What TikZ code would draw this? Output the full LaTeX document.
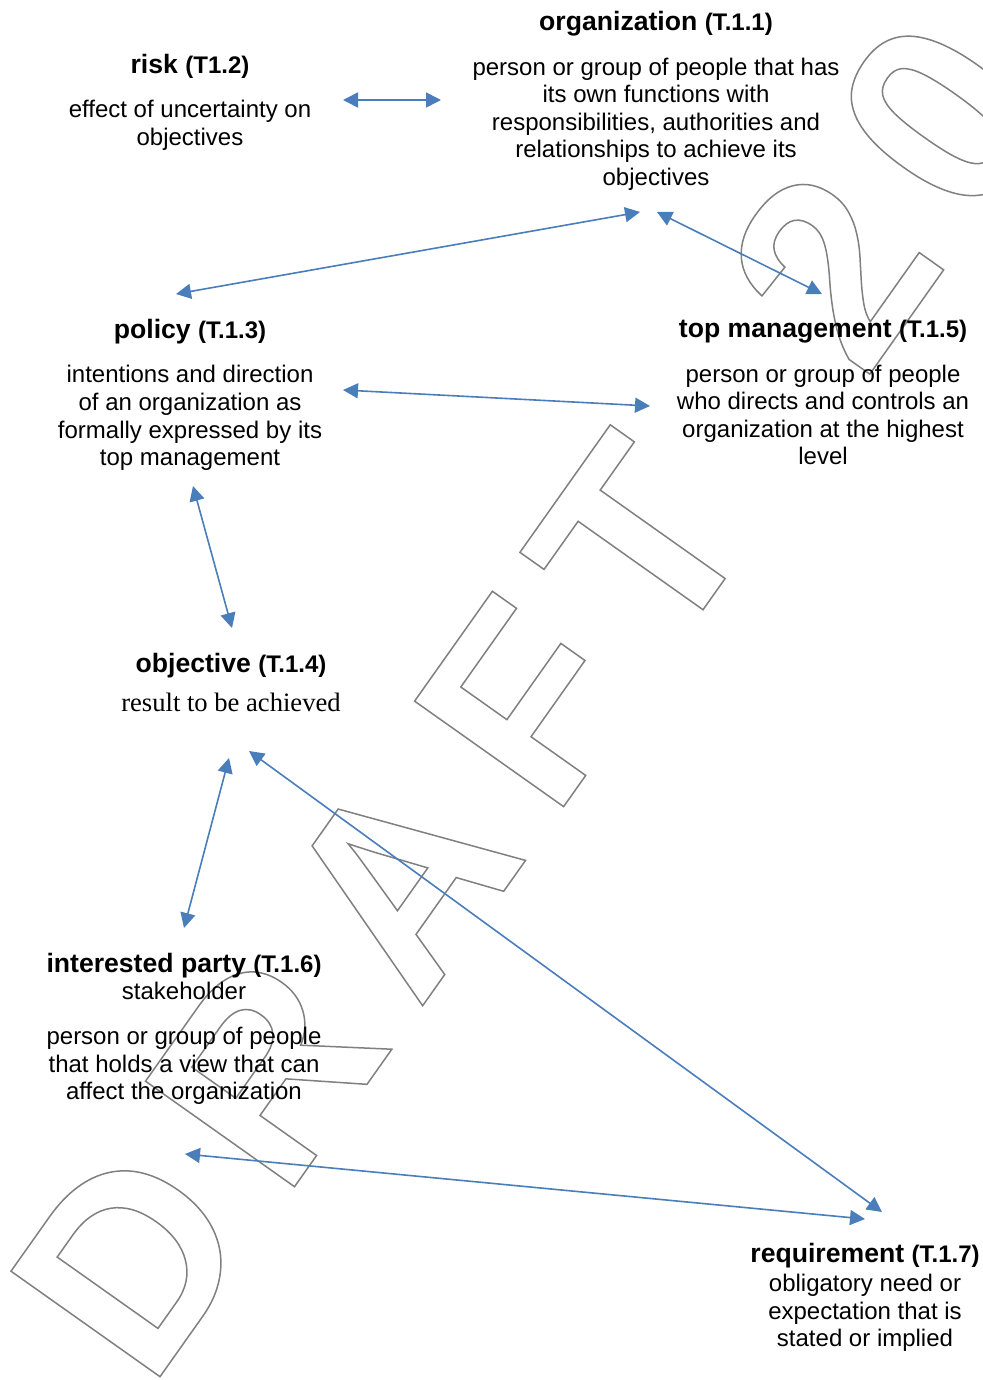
\documentclass[tikz,border=0pt]{standalone}
\usepackage{fontspec}
\setmainfont{Liberation Sans}
\newfontfamily\timesfont{Liberation Serif}
\usetikzlibrary{arrows.meta}
\definecolor{linkblue}{RGB}{74,126,187}
\definecolor{markgray}{RGB}{128,128,128}
\newcommand{\termno}[1]{{\fontsize{12}{14}\selectfont #1}}
\newcommand{\outlined}[1]{\special{pdf:literal direct 1 Tr 0.75 w}#1\special{pdf:literal direct 0 Tr}}
\tikzset{
  term/.style={font=\fontsize{13.3}{16}\selectfont\bfseries, inner sep=0pt},
  defn/.style={font=\fontsize{12}{13.8}\selectfont, align=center, inner sep=0pt},
  link/.style={linkblue, line width=0.8pt, {Triangle[length=7.5pt,width=7.5pt]}-{Triangle[length=7.5pt,width=7.5pt]}},
  letter/.style={markgray, font=\fontsize{132.7}{140}\selectfont\bfseries, inner sep=0pt, anchor=base west, rotate=54.7}
}
\begin{document}
\begin{tikzpicture}[x=0.5pt, y=-0.5pt]
\useasboundingbox (0,0) rectangle (983,1380);
\begin{scope}
\clip (0,0) rectangle (983,1380);
\begin{scope}[shift={(149.5,1391.5)}, rotate=54.7]
\foreach \ch/\s [count=\i] in {D/0, R/232.8, A/465.7, F/698.5, T/895.6, 2/1237, 0/1424}
  \node[letter] (mark\i) at (\s,0) {\outlined{\ch}};
\end{scope}
\end{scope}
\node[term] (risk) at (190,66.5) {risk \termno{(T1.2)}};
\node[defn] (riskdef) at (190,125) {effect of uncertainty on\\objectives};
\node[term] (org) at (656,24) {organization \termno{(T.1.1)}};
\node[defn] (orgdef) at (656,124) {person or group of people that has\\its own functions with\\responsibilities, authorities and\\relationships to achieve its\\objectives};
\node[term] (policy) at (190,332) {policy \termno{(T.1.3)}};
\node[defn] (policydef) at (190,418) {intentions and direction\\of an organization as\\formally expressed by its\\top management};
\node[term] (top) at (823,332) {top management \termno{(T.1.5)}};
\node[defn] (topdef) at (823,415) {person or group of people\\who directs and controls an\\organization at the highest\\level};
\node[term] (objective) at (231,666) {objective \termno{(T.1.4)}};
\node[defn, font=\timesfont\fontsize{13.3}{15}\selectfont] (objdef) at (231,702) {result to be achieved};
\node[term] (party) at (184,966) {interested party \termno{(T.1.6)}};
\node[defn] (partyalt) at (184,991) {stakeholder};
\node[defn] (partydef) at (184,1066) {person or group of people\\that holds a view that can\\affect the organization};
\node[term] (req) at (865,1256) {requirement \termno{(T.1.7)}};
\node[defn] (reqdef) at (865,1313) {obligatory need or\\expectation that is\\stated or implied};
\coordinate (risk-e) at (343,100);
\coordinate (org-w) at (441,100);
\coordinate (org-sw) at (640,212);
\coordinate (org-s) at (657,212);
\coordinate (policy-n) at (176,294);
\coordinate (top-n) at (822,294);
\coordinate (policy-e) at (343,390);
\coordinate (top-w) at (650,406);
\coordinate (policy-s) at (193,486);
\coordinate (obj-n) at (232,628);
\coordinate (obj-s) at (229,758);
\coordinate (obj-se) at (249,751);
\coordinate (party-n) at (184,928);
\coordinate (party-s) at (185,1154);
\coordinate (req-nw) at (865,1219);
\coordinate (req-n) at (882,1212);
\draw[link] (risk-e) -- (org-w);
\draw[link] (policy-n) -- (org-sw);
\draw[link] (org-s) -- (top-n);
\draw[link] (policy-e) -- (top-w);
\draw[link] (policy-s) -- (obj-n);
\draw[link] (obj-s) -- (party-n);
\draw[link] (obj-se) -- (req-n);
\draw[link] (party-s) -- (req-nw);
\end{tikzpicture}
\end{document}
